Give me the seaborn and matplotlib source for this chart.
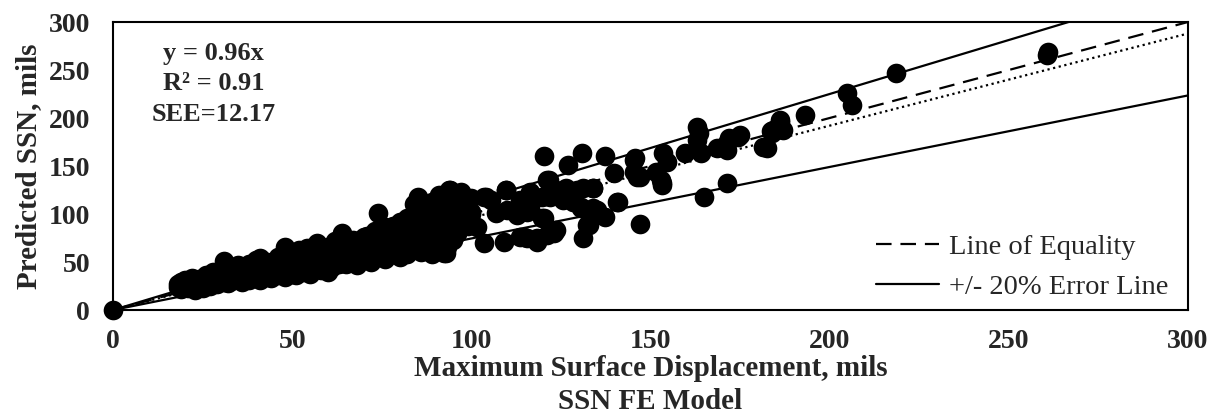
import matplotlib
matplotlib.use("Agg")
import matplotlib.pyplot as plt
import seaborn as sns
import numpy as np
import pandas as pd

# ---------------- data ----------------
fe_x = [0,
    18, 18, 19, 19, 20, 20, 21, 21, 22, 22, 23, 23, 24, 24, 25, 25, 26, 26, 27, 27, 28, 28, 29, 29, 30, 30,
    31, 31, 31, 32, 32, 33, 33, 34, 34, 35, 35, 36, 36, 37, 37, 38, 38, 39, 39, 40, 40, 40,
    41, 41, 42, 42, 43, 43, 44, 44, 45, 45, 46, 46, 47, 47, 48, 48, 48, 49, 49, 50, 50, 50,
    51, 51, 52, 52, 53, 53, 54, 54, 55, 55, 56, 56, 57, 57, 58, 58, 59, 59, 60, 60, 60,
    61, 61, 62, 62, 63, 63, 64, 64, 65, 65, 66, 66, 67, 67, 68, 68, 69, 69, 70, 70, 70,
    71, 71, 72, 72, 73, 73, 74, 74, 75, 75, 76, 76, 77, 77, 78, 78, 79, 79, 80, 80, 80,
    81, 81, 82, 82, 83, 83, 84, 84, 85, 85, 86, 86, 87, 87, 88, 88, 89, 89, 90, 90, 90,
    91, 91, 92, 92, 93, 93, 94, 94, 95, 95, 96, 97, 97, 98, 99, 100, 100,
    101.7, 96, 93.3, 92.3, 99.8, 97, 94.2, 104, 97, 93.7, 105.4, 109.6, 113.7, 116.5, 116.5,
    119.8, 122, 125.7, 128.5, 112.8, 115.6, 110, 107, 130.5, 135, 137.4, 140.7, 120.2, 132.3,
    131.3, 123.5, 121.2, 118.4, 115.6, 113.7, 109, 103.4, 120.2, 131, 127, 137.4, 121.6, 126.3,
    131.3, 134, 139.7, 145.8, 145.3, 147.2, 151.4, 153.2, 153.6, 154.6, 159.7, 163, 163.4, 163,
    164, 164.8, 171.4, 141, 147.2, 168.6, 171.4, 171.8, 175, 181.5, 183.5, 186, 145.3, 146.3,
    152.8, 153.2, 171.4, 174.5, 184.3, 125.3, 129.5, 134, 125.7, 121, 119.8, 114.6, 118.4, 123,
    109.6, 103.4, 134, 130.5, 132.7,
    204.8, 206.2, 193.2, 187, 218.6, 261, 260.6, 182.5, 183.9, 186.2]
pred_y = [0,
    27, 24, 22, 29, 26, 31, 23, 28, 33, 25, 21, 29, 26, 32, 23, 30, 28, 36, 25, 33, 40, 29, 27, 35, 31, 38,
    51, 29, 42, 34, 28, 39, 30, 36, 45, 47, 32, 40, 29, 35, 43, 31, 48, 37, 41, 33, 44, 52,
    54, 31, 38, 46, 35, 50, 42, 33, 48, 39, 55, 36, 44, 51, 34, 60, 66, 41, 47, 38, 53, 58,
    44, 36, 50, 62, 40, 55, 65, 47, 38, 52, 58, 43, 70, 49, 42, 61, 54, 46, 66, 50, 40,
    57, 45, 72, 52, 48, 62, 80, 55, 48, 68, 60, 51, 73, 56, 47, 64, 58, 70, 53, 76, 62,
    77, 56, 67, 50, 60, 82, 101, 70, 55, 64, 86, 53, 72, 61, 88, 58, 67, 78, 62, 92, 55,
    75, 68, 58, 96, 83, 70, 110, 64, 118, 78, 90, 60, 100, 72, 66, 85, 113, 58, 95, 78, 62,
    120, 88, 70, 105, 59, 82, 125, 97, 73, 110, 80, 122, 97, 104, 88, 100, 117,
    86.8, 80, 66, 59, 102, 97, 97, 118, 123, 125, 114.6, 125, 114.6, 123, 106,
    118, 118, 116, 112.8, 99, 102, 104, 101, 106, 104, 97, 112.8, 95.5, 88.5,
    75, 83, 78, 75, 75, 76.4, 71, 70, 160.4, 164, 151, 160, 135.4, 127,
    127, 127, 143, 158, 144, 139, 144, 132, 163.5, 154.5, 163.5, 191, 184, 177,
    163.5, 118, 132, 112.8, 90, 168.5, 166.7, 179, 182, 170, 186, 196, 156, 139,
    135.4, 130, 173.6, 180.6, 187.5, 125, 125, 126.7, 114.6, 135.4, 95.5, 76, 71, 80,
    125, 118, 106, 107.8, 88.5,
    225.7, 213.5, 203, 187.5, 247, 269, 265.6, 168.4, 184, 198]

ref_x = [0, 300]
equality_slope = 1.0
fit_slope = 0.96
upper_slope = 1.125
lower_slope = 0.745

x_ticks = [0, 50, 100, 150, 200, 250, 300]
y_ticks = [0, 50, 100, 150, 200, 250, 300]
annot_lines = ["y = 0.96x", "R² = 0.91", "SEE=12.17"]
legend_labels = ["Line of Equality", "+/- 20% Error Line"]
x_label = "Maximum Surface Displacement, mils\nSSN FE Model"
y_label = "Predicted SSN, mils"

# ---------------- plotting ----------------
sns.set_theme(style="white")
plt.rcParams['font.family'] = ['Liberation Serif', 'DejaVu Serif']

fig = plt.figure(figsize=(12.17, 4.17), dpi=100)
ax = fig.add_axes([113 / 1217, 1 - 310 / 417, (1188 - 113) / 1217, (310 - 22) / 417])

df = pd.DataFrame({"x": fe_x, "y": pred_y})

rx = np.array(ref_x, dtype=float)
ax.plot(rx, fit_slope * rx, color="black", lw=1.6, ls=(0, (1, 1.6)), zorder=2)
l_eq, = ax.plot(rx, equality_slope * rx, color="black", lw=1.6, ls=(0, (7, 4)), zorder=2)
l_err, = ax.plot(rx, upper_slope * rx, color="black", lw=1.6, zorder=2)
ax.plot(rx, lower_slope * rx, color="black", lw=1.6, zorder=2)

sns.scatterplot(data=df, x="x", y="y", ax=ax, color="black", s=200,
                edgecolor="black", linewidth=0, zorder=3, clip_on=False, legend=False)

ax.set_xlim(0, 300)
ax.set_ylim(0, 300)
ax.set_xticks(x_ticks)
ax.set_yticks(y_ticks)
ax.set_xticklabels([str(t) for t in x_ticks], fontweight="bold", fontsize=20)
ax.set_yticklabels([str(t) for t in y_ticks], fontweight="bold", fontsize=20)
ax.tick_params(axis="both", direction="inout", length=11, width=1.3, color="black")
ax.tick_params(axis="y", pad=11)
ax.tick_params(axis="x", pad=8)

for sp in ax.spines.values():
    sp.set_visible(True)
    sp.set_color("black")
    sp.set_linewidth(1.5)

ax.set_xlabel(x_label, fontweight="bold", fontsize=21, linespacing=1.3, labelpad=1)
ax.set_ylabel(y_label, fontweight="bold", fontsize=21, labelpad=5)

ax.text(28.0, (310 - 84) / 0.96, "\n".join(annot_lines), ha="center", va="center",
        fontweight="bold", fontsize=19, linespacing=1.4, zorder=5)

leg = ax.legend([l_eq, l_err], legend_labels, loc="lower right", frameon=False,
                fontsize=20.5, handlelength=2.2, handletextpad=0.35, labelspacing=0.5,
                borderaxespad=0.3, bbox_to_anchor=(1.0, -0.035))

ax.set_facecolor("white")
fig.patch.set_facecolor("white")
fig.savefig("out.png", dpi=100, facecolor="white")
